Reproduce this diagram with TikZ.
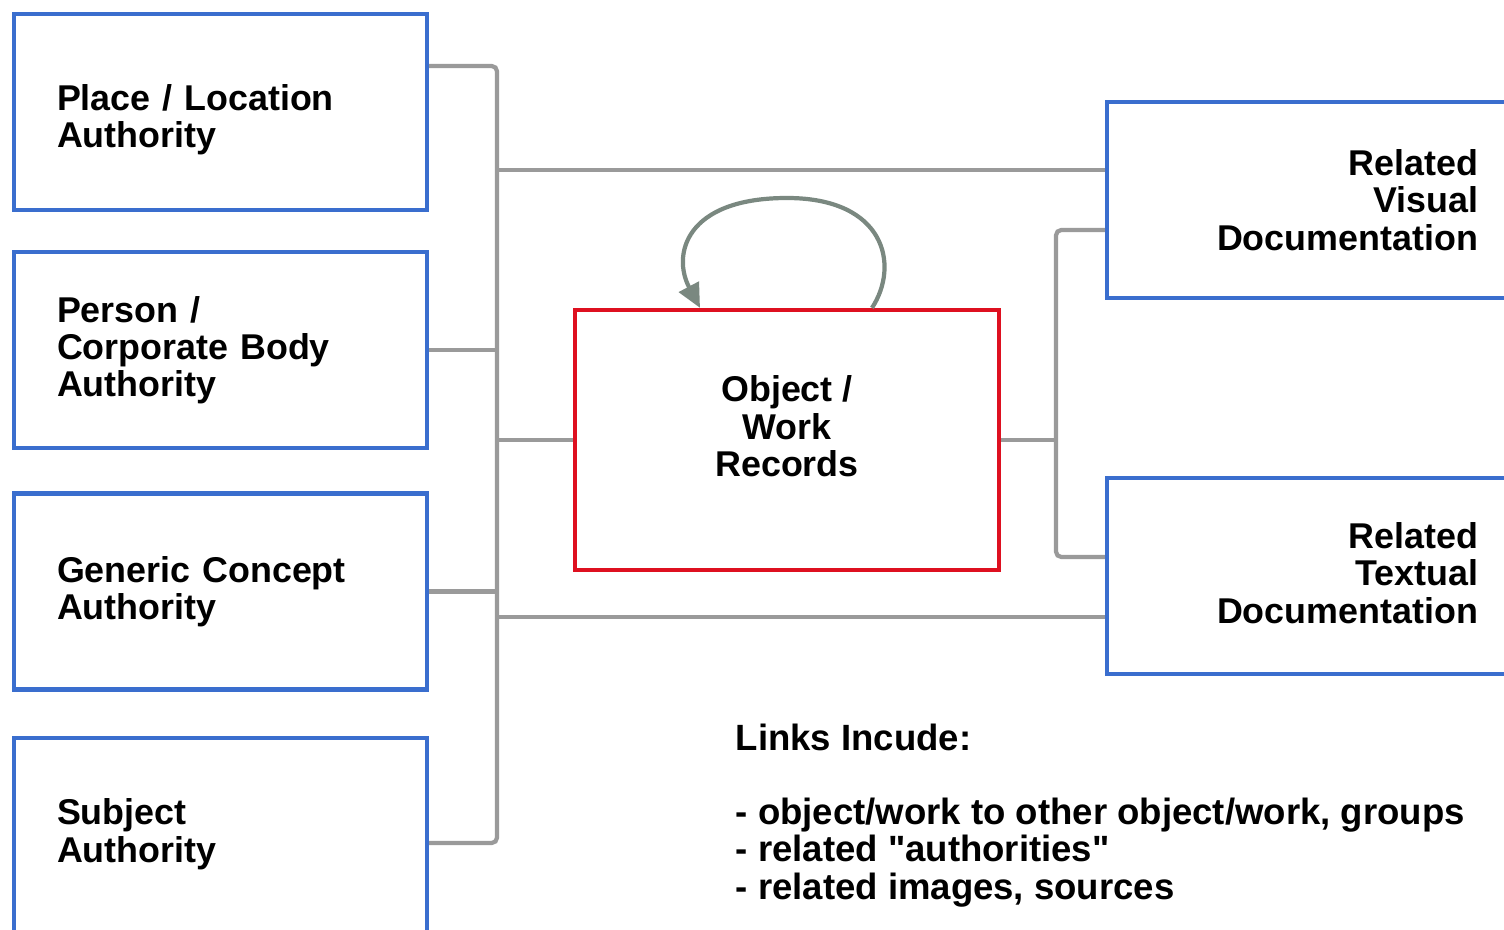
\documentclass[tikz,border=0pt]{standalone}
\usepackage{fontspec}
\setmainfont{Liberation Sans}[Ligatures=TeXOff]
\usepackage{xcolor}
\usepackage{tikz}
\usetikzlibrary{calc,arrows.meta}
\definecolor{authblue}{RGB}{58,110,206}
\definecolor{recred}{RGB}{222,16,32}
\definecolor{linkgray}{RGB}{154,154,154}
\definecolor{tipgray}{RGB}{122,136,128}

\begin{document}
\begin{tikzpicture}[>={Triangle[length=2.4mm,width=2.2mm]},
  font=\fontsize{10.2}{10.6}\selectfont\bfseries,
  authbox/.style={draw=authblue,line width=1.2pt,minimum width=4.13cm,minimum height=1.96cm,
    inner xsep=0.43cm,text width=3.27cm,align=left},
  docbox/.style={draw=authblue,line width=1.2pt,minimum width=4.03cm,minimum height=1.96cm,
    inner xsep=0.32cm,text width=3.39cm,align=right},
  recbox/.style={draw=recred,line width=1.2pt,minimum width=4.24cm,minimum height=2.60cm,align=center},
  link/.style={draw=linkgray,line width=1.2pt,rounded corners=1.5pt}]
\path[use as bounding box,clip] (0,0) rectangle (15.04,-9.30);
% authorities on the left
\node[authbox] (place) at (2.205,-1.12) {\mbox{}\\[1pt]Place / Location\\Authority};
\node[authbox] (person) at (2.205,-3.50) {Person /\\Corporate Body\\Authority};
\node[authbox] (generic) at (2.205,-5.915) {Generic Concept\\Authority};
\node[authbox] (subject) at (2.205,-8.36) {Subject\\Authority\\[-7.5pt]\mbox{}};
% records and documentation
\node[recbox] (object) at (7.87,-4.40) {Object /\\Work\\Records\\[-2.7pt]\mbox{}};
\node[docbox] (visual) at (13.085,-2.00) {Related\\Visual\\Documentation};
\node[docbox] (textual) at (13.085,-5.76) {Related\\Textual\\Documentation\\[-8.8pt]\mbox{}};
\coordinate (bustop) at (4.97,-0.66);
\coordinate (busbot) at (4.97,-8.43);
\coordinate (fork) at (10.56,-4.40);
\draw[link] (place.east |- bustop) -- (bustop) -- (busbot) -- (subject.east |- busbot);
\draw[link] (person.east) -- (person.east -| bustop);
\draw[link] (generic.east) -- (generic.east -| bustop);
\draw[link] (object.west) -- (object.west -| bustop);
\draw[link] ([yshift=0.30cm]visual.west) -- ([yshift=0.30cm]visual.west -| bustop);
\draw[link] ([yshift=-0.41cm]textual.west) -- ([yshift=-0.41cm]textual.west -| bustop);
\draw[link] (object.east) -- (fork);
\draw[link] ([yshift=-0.30cm]visual.west) -| (fork) |- ([yshift=0.19cm]textual.west);
%\draw[link] (object.north) circle (1cm);
\draw[link,rounded corners=0pt,->,tipgray] ([xshift=0.85cm]object.north)
  .. controls (9.0,-2.65) and (8.85,-1.98) .. (7.87,-1.98)
  .. controls (6.85,-1.98) and (6.72,-2.55) .. ([xshift=-0.87cm]object.north);
\node[anchor=north west,inner sep=0pt,align=left,font=\fontsize{10.4}{10.6}\selectfont\bfseries] (links) at (7.35,-7.23)
  {Links Incude:\\[10.6pt]- object/work to other object/work, groups\\- related "authorities"\\- related images, sources};
\end{tikzpicture}
\end{document}
